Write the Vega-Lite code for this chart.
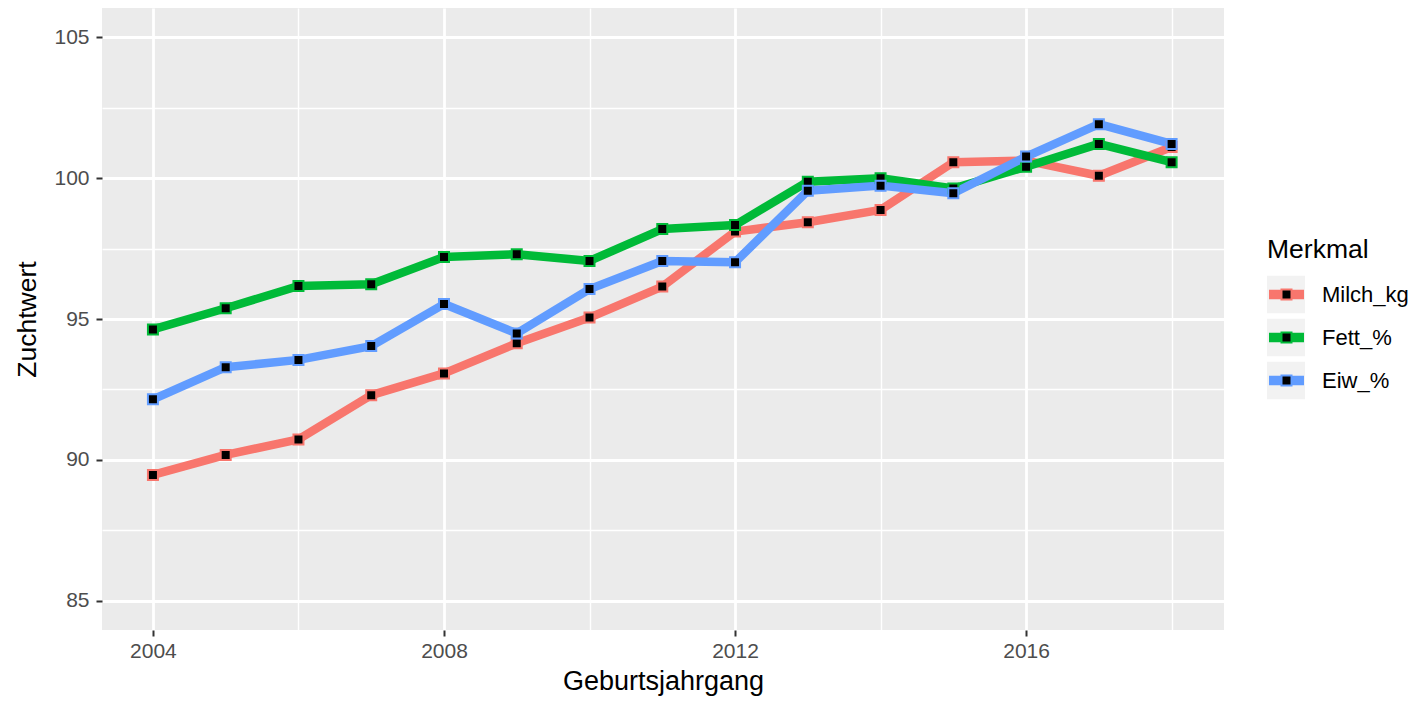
{
  "$schema": "https://vega.github.io/schema/vega-lite/v6.json",
  "width": 1122,
  "height": 622,
  "autosize": {"type": "none"},
  "padding": {"left": 102, "top": 8, "right": 201, "bottom": 74},
  "background": "white",
  "config": {
    "font": "Liberation Sans",
    "view": {"fill": "#EBEBEB", "stroke": null},
    "axis": {"gridColor": "white", "domain": false, "labelFont": "Liberation Sans", "titleFont": "Liberation Sans", "titleFontWeight": "normal"},
    "legend": {"titleFont": "Liberation Sans", "labelFont": "Liberation Sans", "titleFontWeight": "normal"}
  },
  "data": {
    "values": [
      {"Jahr": 2004, "Merkmal": "Milch_kg", "Zuchtwert": 89.47},
      {"Jahr": 2005, "Merkmal": "Milch_kg", "Zuchtwert": 90.18},
      {"Jahr": 2006, "Merkmal": "Milch_kg", "Zuchtwert": 90.73},
      {"Jahr": 2007, "Merkmal": "Milch_kg", "Zuchtwert": 92.30},
      {"Jahr": 2008, "Merkmal": "Milch_kg", "Zuchtwert": 93.07},
      {"Jahr": 2009, "Merkmal": "Milch_kg", "Zuchtwert": 94.14},
      {"Jahr": 2010, "Merkmal": "Milch_kg", "Zuchtwert": 95.05},
      {"Jahr": 2011, "Merkmal": "Milch_kg", "Zuchtwert": 96.15},
      {"Jahr": 2012, "Merkmal": "Milch_kg", "Zuchtwert": 98.10},
      {"Jahr": 2013, "Merkmal": "Milch_kg", "Zuchtwert": 98.43},
      {"Jahr": 2014, "Merkmal": "Milch_kg", "Zuchtwert": 98.87},
      {"Jahr": 2015, "Merkmal": "Milch_kg", "Zuchtwert": 100.56},
      {"Jahr": 2016, "Merkmal": "Milch_kg", "Zuchtwert": 100.62},
      {"Jahr": 2017, "Merkmal": "Milch_kg", "Zuchtwert": 100.08},
      {"Jahr": 2018, "Merkmal": "Milch_kg", "Zuchtwert": 101.10},
      {"Jahr": 2004, "Merkmal": "Fett_%", "Zuchtwert": 94.63},
      {"Jahr": 2005, "Merkmal": "Fett_%", "Zuchtwert": 95.38},
      {"Jahr": 2006, "Merkmal": "Fett_%", "Zuchtwert": 96.17},
      {"Jahr": 2007, "Merkmal": "Fett_%", "Zuchtwert": 96.23},
      {"Jahr": 2008, "Merkmal": "Fett_%", "Zuchtwert": 97.20},
      {"Jahr": 2009, "Merkmal": "Fett_%", "Zuchtwert": 97.30},
      {"Jahr": 2010, "Merkmal": "Fett_%", "Zuchtwert": 97.06},
      {"Jahr": 2011, "Merkmal": "Fett_%", "Zuchtwert": 98.19},
      {"Jahr": 2012, "Merkmal": "Fett_%", "Zuchtwert": 98.33},
      {"Jahr": 2013, "Merkmal": "Fett_%", "Zuchtwert": 99.87},
      {"Jahr": 2014, "Merkmal": "Fett_%", "Zuchtwert": 99.99},
      {"Jahr": 2015, "Merkmal": "Fett_%", "Zuchtwert": 99.63},
      {"Jahr": 2016, "Merkmal": "Fett_%", "Zuchtwert": 100.40},
      {"Jahr": 2017, "Merkmal": "Fett_%", "Zuchtwert": 101.21},
      {"Jahr": 2018, "Merkmal": "Fett_%", "Zuchtwert": 100.56},
      {"Jahr": 2004, "Merkmal": "Eiw_%", "Zuchtwert": 92.15},
      {"Jahr": 2005, "Merkmal": "Eiw_%", "Zuchtwert": 93.29},
      {"Jahr": 2006, "Merkmal": "Eiw_%", "Zuchtwert": 93.55},
      {"Jahr": 2007, "Merkmal": "Eiw_%", "Zuchtwert": 94.04},
      {"Jahr": 2008, "Merkmal": "Eiw_%", "Zuchtwert": 95.53},
      {"Jahr": 2009, "Merkmal": "Eiw_%", "Zuchtwert": 94.49},
      {"Jahr": 2010, "Merkmal": "Eiw_%", "Zuchtwert": 96.06},
      {"Jahr": 2011, "Merkmal": "Eiw_%", "Zuchtwert": 97.06},
      {"Jahr": 2012, "Merkmal": "Eiw_%", "Zuchtwert": 97.01},
      {"Jahr": 2013, "Merkmal": "Eiw_%", "Zuchtwert": 99.55},
      {"Jahr": 2014, "Merkmal": "Eiw_%", "Zuchtwert": 99.73},
      {"Jahr": 2015, "Merkmal": "Eiw_%", "Zuchtwert": 99.46},
      {"Jahr": 2016, "Merkmal": "Eiw_%", "Zuchtwert": 100.76},
      {"Jahr": 2017, "Merkmal": "Eiw_%", "Zuchtwert": 101.91},
      {"Jahr": 2018, "Merkmal": "Eiw_%", "Zuchtwert": 101.21}
    ]
  },
  "layer": [
    {
      "mark": {"type": "point", "filled": true, "size": 0, "opacity": 1},
      "encoding": {
        "x": {"field": "Jahr", "type": "quantitative", "scale": {"domain": [2003.3, 2018.72], "nice": false, "zero": false}, "axis": null},
        "y": {"field": "Zuchtwert", "type": "quantitative", "scale": {"domain": [83.97, 106.03], "nice": false, "zero": false}, "axis": null},
        "fill": {
          "field": "Merkmal", "type": "nominal",
          "scale": {"domain": ["Milch_kg", "Fett_%", "Eiw_%", "_"], "range": ["#F2F2F2", "#F2F2F2", "#F2F2F2", "#F2F2F2"]},
          "legend": {
            "values": ["Milch_kg", "Fett_%", "Eiw_%"],
            "orient": "none", "legendX": 1165, "legendY": 229, "padding": 0,
            "title": "Merkmal", "titleFontSize": 26.5, "titleColor": "black", "titlePadding": 12,
            "symbolType": "square", "symbolSize": 1444, "symbolStrokeWidth": 0, "symbolStrokeColor": "transparent", "symbolOpacity": 1,
            "clipHeight": 38, "rowPadding": 5, "labelFontSize": 22, "labelColor": "black", "labelOffset": 17,
            "zindex": 0
          }
        }
      }
    },
    {
      "mark": {"type": "line", "strokeWidth": 8.5, "strokeJoin": "round", "strokeCap": "butt"},
      "encoding": {
        "x": {
          "field": "Jahr", "type": "quantitative",
          "scale": {"domain": [2003.3, 2018.72], "nice": false, "zero": false},
          "axis": {"orient": "top", "values": [2006, 2010, 2014, 2018], "grid": true, "gridWidth": 1.4, "labels": false, "ticks": false, "domain": false, "title": null}
        },
        "y": {
          "field": "Zuchtwert", "type": "quantitative",
          "scale": {"domain": [83.97, 106.03], "nice": false, "zero": false},
          "axis": {"orient": "right", "values": [87.5, 92.5, 97.5, 102.5], "grid": true, "gridWidth": 1.4, "labels": false, "ticks": false, "domain": false, "title": null}
        },
        "color": {
          "field": "Merkmal", "type": "nominal",
          "scale": {"domain": ["Milch_kg", "Fett_%", "Eiw_%"], "range": ["#F8766D", "#00BA38", "#619CFF"]},
          "legend": {
            "orient": "none", "legendX": 1162, "legendY": 267.5, "padding": 0,
            "title": null,
            "symbolType": "stroke", "symbolSize": 1225, "symbolStrokeWidth": 9.5,
            "clipHeight": 38, "rowPadding": 5, "labelFontSize": 22, "labelExpr": "''", "labelOffset": 17,
            "zindex": 1
          }
        }
      }
    },
    {
      "mark": {"type": "point", "shape": "square", "filled": true, "fill": "black", "size": 100, "strokeWidth": 2, "opacity": 1},
      "encoding": {
        "x": {
          "field": "Jahr", "type": "quantitative",
          "scale": {"domain": [2003.3, 2018.72], "nice": false, "zero": false},
          "axis": {
            "orient": "bottom", "values": [2004, 2008, 2012, 2016], "format": "d",
            "grid": true, "gridWidth": 2.8, "domain": false,
            "ticks": true, "tickSize": 6, "tickWidth": 2, "tickColor": "#333333",
            "labelFontSize": 21, "labelColor": "#4D4D4D", "labelPadding": 4,
            "title": "Geburtsjahrgang", "titleFontSize": 27, "titleColor": "black", "titlePadding": 7
          }
        },
        "y": {
          "field": "Zuchtwert", "type": "quantitative",
          "scale": {"domain": [83.97, 106.03], "nice": false, "zero": false},
          "axis": {
            "orient": "left", "values": [85, 90, 95, 100, 105],
            "grid": true, "gridWidth": 2.8, "domain": false,
            "ticks": true, "tickSize": 6, "tickWidth": 2, "tickColor": "#333333",
            "labelFontSize": 21, "labelColor": "#4D4D4D", "labelPadding": 7,
            "title": "Zuchtwert", "titleFontSize": 26.5, "titleColor": "black", "titlePadding": 12
          }
        },
        "stroke": {
          "field": "Merkmal", "type": "nominal",
          "sort": ["Milch_kg", "Fett_%", "Eiw_%"],
          "scale": {"range": ["#F8766D", "#00BA38", "#619CFF"]},
          "legend": {
            "orient": "none", "legendX": 1173.5, "legendY": 267.5, "padding": 0,
            "title": null,
            "symbolType": "square", "symbolSize": 100, "symbolStrokeWidth": 2,
            "clipHeight": 38, "rowPadding": 5, "labelFontSize": 22, "labelExpr": "''", "labelOffset": 17,
            "zindex": 2
          }
        }
      }
    }
  ],
  "resolve": {"axis": {"x": "independent", "y": "independent"}}
}
